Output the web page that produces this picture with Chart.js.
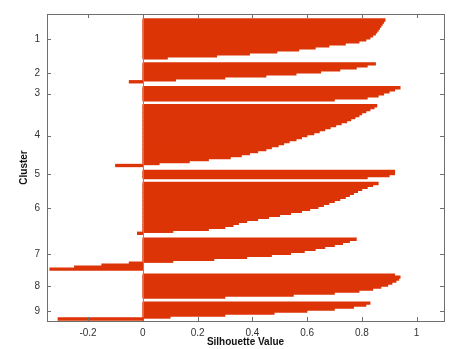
<!DOCTYPE html>
<html>
<head>
<meta charset="utf-8">
<script src="https://cdn.jsdelivr.net/npm/chart.js@4"></script>
<style>
  html, body { margin: 0; padding: 0; background: #fff; }
  #wrap { width: 451px; height: 349px; }
</style>
</head>
<body>
<div id="wrap"><canvas id="sil" width="451" height="349"></canvas></div>
<script>
// cluster names (y tick labels)
const clusterNames = ['1', '2', '3', '4', '5', '6', '7', '8', '9'];

// silhouette values per cluster, sorted top to bottom as they appear
const sil1 = [0.885, 0.88, 0.875, 0.87, 0.865, 0.86, 0.855, 0.85, 0.84, 0.83, 0.815, 0.79, 0.74, 0.68, 0.63, 0.57, 0.49, 0.39, 0.27, 0.09];
const sil2 = [0.85, 0.82, 0.78, 0.72, 0.65, 0.56, 0.45, 0.30, 0.12, -0.05];
const sil3 = [0.94, 0.92, 0.90, 0.88, 0.86, 0.82, 0.70];
const sil4 = [0.855, 0.845, 0.83, 0.815, 0.80, 0.79, 0.775, 0.76, 0.745, 0.725, 0.705, 0.685, 0.665, 0.645, 0.625, 0.60,
              0.58, 0.56, 0.535, 0.515, 0.495, 0.47, 0.45, 0.42, 0.39, 0.36, 0.32, 0.24, 0.17, 0.06, -0.10];
const sil5 = [0.92, 0.92, 0.90, 0.82];
const sil6 = [0.86, 0.84, 0.82, 0.80, 0.785, 0.77, 0.755, 0.74, 0.72, 0.70, 0.68, 0.66, 0.64, 0.61, 0.58, 0.54,
              0.50, 0.46, 0.42, 0.38, 0.35, 0.33, 0.30, 0.24, 0.11, -0.02];
const sil7 = [0.78, 0.755, 0.73, 0.70, 0.665, 0.63, 0.59, 0.54, 0.47, 0.38, 0.26, 0.11, -0.05, -0.15, -0.25, -0.34];
const sil8 = [0.92, 0.94, 0.935, 0.925, 0.91, 0.895, 0.87, 0.84, 0.79, 0.70, 0.55, 0.30];
const sil9 = [0.83, 0.815, 0.77, 0.70, 0.60, 0.48, 0.30, 0.10, -0.31];

const clusterValues = [sil1, sil2, sil3, sil4, sil5, sil6, sil7, sil8, sil9];

// x axis ticks
const xTicks = [-0.2, 0, 0.2, 0.4, 0.6, 0.8, 1];
const xTickLabels = ['-0.2', '0', '0.2', '0.4', '0.6', '0.8', '1'];

// row layout (one row per point, blank rows between clusters)
const topPad = 2.5;
const gapRows = 2;

const points = [];
const centers = [];
let pos = topPad;
clusterValues.forEach((vals, ci) => {
  const start = pos;
  vals.forEach(v => {
    points.push({ x: v, y: pos + 0.5 });
    pos += 1;
  });
  centers.push(start + vals.length / 2);
  if (ci < clusterValues.length - 1) pos += gapRows;
});
const yMax = pos + 0.5;

const font = { family: '"Liberation Sans", Arial, Helvetica, sans-serif', size: 10 };

// matlab style box + inward ticks + bar baseline
const boxPlugin = {
  id: 'box',
  afterDatasetsDraw(chart) {
    const { ctx, chartArea: a, scales } = chart;
    ctx.save();
    ctx.strokeStyle = '#8a8a8a';
    ctx.lineWidth = 1;
    const x0 = Math.round(scales.x.getPixelForValue(0)) + 0.5;
    ctx.beginPath();
    ctx.moveTo(x0, a.top);
    ctx.lineTo(x0, a.bottom);
    ctx.stroke();

    ctx.strokeStyle = '#6e6e6e';
    ctx.strokeRect(Math.round(a.left) + 0.5, Math.round(a.top) + 0.5,
                   Math.round(a.right - a.left), Math.round(a.bottom - a.top));
    ctx.beginPath();
    xTicks.forEach(v => {
      const px = Math.round(scales.x.getPixelForValue(v)) + 0.5;
      ctx.moveTo(px, a.bottom); ctx.lineTo(px, a.bottom - 4);
      ctx.moveTo(px, a.top); ctx.lineTo(px, a.top + 4);
    });
    centers.forEach(c => {
      const py = Math.round(scales.y.getPixelForValue(c)) + 0.5;
      ctx.moveTo(a.left, py); ctx.lineTo(a.left + 4, py);
      ctx.moveTo(a.right, py); ctx.lineTo(a.right - 4, py);
    });
    ctx.stroke();
    ctx.restore();
  }
};

new Chart(document.getElementById('sil'), {
  type: 'bar',
  data: {
    datasets: [{
      data: points,
      backgroundColor: '#dc3406',
      borderWidth: 0,
      barThickness: 2.7
    }]
  },
  options: {
    indexAxis: 'y',
    responsive: false,
    animation: false,
    devicePixelRatio: 1,
    layout: { padding: { left: 0, top: 14, right: 7, bottom: 0 } },
    plugins: { legend: { display: false }, tooltip: { enabled: false } },
    scales: {
      x: {
        type: 'linear',
        min: -0.35,
        max: 1.1,
        grid: { display: false, drawTicks: false },
        border: { display: false },
        afterBuildTicks: s => { s.ticks = xTicks.map(v => ({ value: v })); },
        afterFit: s => { s.height = 28; },
        ticks: {
          padding: 6,
          color: '#333',
          font: font,
          maxRotation: 0,
          autoSkip: false,
          callback: (v, i) => xTickLabels[i]
        },
        title: {
          display: true,
          text: 'Silhouette Value',
          color: '#111',
          font: { family: font.family, size: 10, weight: 'bold' },
          padding: { top: 0, bottom: 1 }
        }
      },
      y: {
        type: 'linear',
        reverse: true,
        offset: false,
        min: 0,
        max: yMax,
        grid: { display: false, drawTicks: false },
        border: { display: false },
        afterBuildTicks: s => { s.ticks = centers.map(c => ({ value: c })); },
        afterFit: s => { s.width = 47; },
        ticks: {
          padding: 7,
          color: '#333',
          font: font,
          autoSkip: false,
          callback: (v, i) => clusterNames[i]
        },
        title: {
          display: true,
          text: 'Cluster',
          color: '#111',
          font: { family: font.family, size: 10, weight: 'bold' },
          padding: { top: 18, bottom: 0 }
        }
      }
    }
  },
  plugins: [boxPlugin]
});
</script>
</body>
</html>
